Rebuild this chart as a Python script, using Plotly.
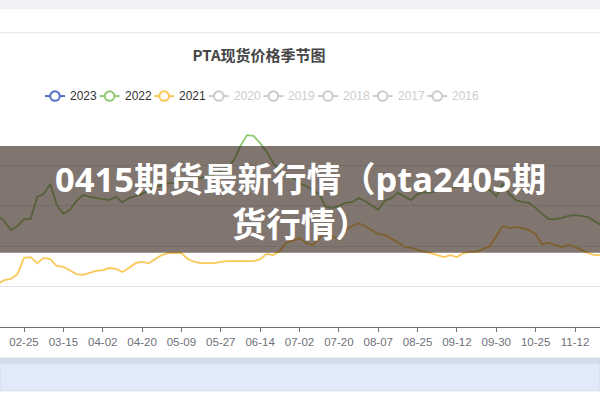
import plotly.graph_objects as go

# ---------------- data ----------------
TITLE = "PTA现货价格季节图"
OVERLAY_TEXT = "0415期货最新行情（pta2405期<br>货行情）"

TICK_LABELS = ["02-25", "03-15", "04-02", "04-20", "05-09", "05-27", "06-14", "07-02",
               "07-20", "08-07", "08-25", "09-12", "09-30", "10-25", "11-12"]

DATES = [
    "02-13", "02-16", "02-19", "02-22",
    "02-25", "02-28", "03-03", "03-06", "03-09", "03-12",
    "03-15", "03-18", "03-21", "03-24", "03-27", "03-30",
    "04-02", "04-05", "04-08", "04-11", "04-14", "04-17",
    "04-20", "04-23", "04-26", "04-30", "05-03", "05-06",
    "05-09", "05-12", "05-15", "05-18", "05-21", "05-24",
    "05-27", "05-30", "06-02", "06-05", "06-08", "06-11",
    "06-14", "06-17", "06-20", "06-23", "06-26", "06-29",
    "07-02", "07-05", "07-08", "07-11", "07-14", "07-17",
    "07-20", "07-23", "07-26", "07-29", "08-01", "08-04",
    "08-07", "08-10", "08-13", "08-16", "08-19", "08-22",
    "08-25", "08-28", "08-31", "09-03", "09-06", "09-09",
    "09-12", "09-15", "09-18", "09-21", "09-24", "09-27",
    "09-30", "10-10", "10-13", "10-17", "10-19", "10-22",
    "10-25", "10-28", "10-31", "11-03", "11-06", "11-09",
    "11-12", "11-15", "11-18", "11-21", "11-24",
]

PRICE_2023 = []  # no visible values in this window

PRICE_2022 = [
    5750, 5620, 5400, 5500,
    5670, 5670, 6220, 6290, 6540, 6020,
    5800, 5900, 6120, 6270, 6220, 6190,
    6170, 6140, 6220, 6090, 6190, 6240,
    6290, 6390, 6470, 6510, 6560, 6560,
    6610, 6640, 6660, 6690, 6740, 6760,
    6860, 6940, 7130, 7480, 7750, 7730,
    7550, 7330, 7060, 6860, 6790, 6690,
    6560, 6490, 6390, 6290, 5970, 5950,
    6000, 6070, 6090, 6190, 6120, 6000,
    5900, 6120, 6190, 6320, 6220, 6140,
    6290, 6340, 6320, 6370, 6390, 6440,
    6470, 6490, 6490, 6470, 6440, 6390,
    6240, 6540, 6290, 6140, 6090, 6070,
    5950, 5800, 5670, 5670, 5700, 5750,
    5770, 5750, 5720, 5620, 5520,
]

PRICE_2021 = [
    4060, 4160, 4190, 4310,
    4710, 4730, 4580, 4710, 4680, 4510,
    4490, 4390, 4310, 4290, 4340, 4390,
    4410, 4460, 4440, 4360, 4460, 4580,
    4610, 4580, 4680, 4780, 4830, 4830,
    4830, 4680, 4610, 4580, 4580, 4580,
    4610, 4630, 4630, 4630, 4630, 4630,
    4680, 4810, 4780, 4880, 5100, 5130,
    5200, 5080, 5030, 5180, 5400, 5250,
    5150, 5400, 5500, 5570, 5500, 5400,
    5300, 5280, 5200, 5100, 4980, 4960,
    4910, 4860, 4830, 4780, 4730, 4780,
    4730, 4830, 4860, 4860, 4930, 5000,
    5250, 5500, 5450, 5480, 5450, 5400,
    5300, 5050, 5080, 5030, 4980, 5030,
    4980, 4910, 4830, 4780, 4780,
]

YEARS = ["2023", "2022", "2021", "2020", "2019", "2018", "2017", "2016"]
ACTIVE = ["2023", "2022", "2021"]
COLORS = {"2023": "#5470c6", "2022": "#91cc75", "2021": "#fac858"}
INACTIVE_COLOR = "#cccccc"

Y_MIN, Y_MAX, Y_STEP = 3000, 8000, 1000

# ---------------- layout constants ----------------
W, H = 600, 400
PLOT_TOP, PLOT_BOTTOM = 125, 327.5


def px_x(px):
    return px / W


def px_y(py):
    return (PLOT_BOTTOM - py) / (PLOT_BOTTOM - PLOT_TOP)


fig = go.Figure()

series = {"2023": PRICE_2023, "2022": PRICE_2022, "2021": PRICE_2021}
for yr in ["2021", "2022", "2023"]:
    vals = series[yr]
    fig.add_trace(go.Scatter(
        x=DATES[:len(vals)], y=vals, name=yr, mode="lines",
        line=dict(color=COLORS[yr], width=1.8),
        showlegend=False, hoverinfo="skip",
    ))

shapes = []
annotations = []

# page decorations (top band, separator, slider)
shapes.append(dict(type="rect", xref="paper", yref="paper", x0=0, x1=1,
                   y0=px_y(9), y1=px_y(0), fillcolor="#eff1f6", line_width=0, layer="below"))
shapes.append(dict(type="line", xref="paper", yref="paper", x0=0, x1=1,
                   y0=px_y(32.5), y1=px_y(32.5), line=dict(color="#e4e6ea", width=1)))
shapes.append(dict(type="rect", xref="paper", yref="paper", x0=0, x1=1,
                   y0=px_y(364), y1=px_y(358), fillcolor="#d4dbe8", line_width=0))
shapes.append(dict(type="rect", xref="paper", yref="paper", x0=0, x1=1,
                   y0=px_y(391.5), y1=px_y(364), fillcolor="#e1eaf9",
                   line=dict(color="#d3dbe8", width=1)))

# manual legend (echarts style)
LEG_X0, LEG_STEP, LEG_Y = 45, 54.6, 96
for k, yr in enumerate(YEARS):
    x0 = LEG_X0 + k * LEG_STEP
    col = COLORS[yr] if yr in ACTIVE else INACTIVE_COLOR
    tcol = "#333333" if yr in ACTIVE else INACTIVE_COLOR
    shapes.append(dict(type="line", xref="paper", yref="paper",
                       x0=px_x(x0), x1=px_x(x0 + 20), y0=px_y(LEG_Y), y1=px_y(LEG_Y),
                       line=dict(color=col, width=2)))
    r = 4.8
    shapes.append(dict(type="circle", xref="paper", yref="paper",
                       x0=px_x(x0 + 10 - r), x1=px_x(x0 + 10 + r),
                       y0=px_y(LEG_Y + r), y1=px_y(LEG_Y - r),
                       fillcolor="white", line=dict(color=col, width=2)))
    annotations.append(dict(text=yr, xref="paper", yref="paper", x=px_x(x0 + 23), y=px_y(LEG_Y),
                            xanchor="left", yanchor="middle", showarrow=False,
                            font=dict(size=12, color=tcol, family="Liberation Sans, Arial, sans-serif")))

# overlay band with headline
shapes.append(dict(type="rect", xref="paper", yref="paper", x0=0, x1=1,
                   y0=px_y(253), y1=px_y(146), fillcolor="rgba(45,25,15,0.6)",
                   line_width=0, layer="above"))
annotations.append(dict(text=OVERLAY_TEXT, xref="paper", yref="paper",
                        x=px_x(300), y=px_y(201), xanchor="center", yanchor="middle",
                        showarrow=False, align="center",
                        font=dict(size=34.5, color="white", weight="bold",
                                  family="Noto Sans, Noto Sans CJK SC, sans-serif")))

fig.update_layout(
    width=W, height=H,
    margin=dict(l=0, r=0, t=PLOT_TOP, b=H - PLOT_BOTTOM, pad=0),
    paper_bgcolor="white", plot_bgcolor="white",
    title=dict(text=TITLE, x=259 / W, xanchor="center", y=1 - 55.5 / H, yanchor="middle",
               yref="container",
               font=dict(size=15, color="#464646", weight="bold",
                         family="Noto Sans CJK SC, sans-serif")),
    shapes=shapes, annotations=annotations,
    showlegend=False,
)

fig.update_xaxes(
    type="category", categoryorder="array", categoryarray=DATES,
    tickmode="array", tickvals=TICK_LABELS, ticktext=TICK_LABELS,
    range=[4 - 24 / 6.5595, 4 + 576 / 6.5595],
    showline=True, linecolor="#6e7079", linewidth=1,
    ticks="outside", ticklen=4, tickcolor="#6e7079",
    tickfont=dict(size=11.5, color="#6e7079", family="Liberation Sans, Arial, sans-serif"),
    showgrid=False, zeroline=False, fixedrange=True,
)
fig.update_yaxes(
    range=[Y_MIN, Y_MAX], dtick=Y_STEP, tick0=Y_MIN,
    showgrid=True, gridcolor="#e0e6f1", gridwidth=1,
    showticklabels=False, zeroline=False, showline=False, fixedrange=True,
)

fig.write_html(
    "out.html",
    config={"displayModeBar": False},
    post_script="document.body.style.margin='0';document.body.style.overflow='hidden';",
)
